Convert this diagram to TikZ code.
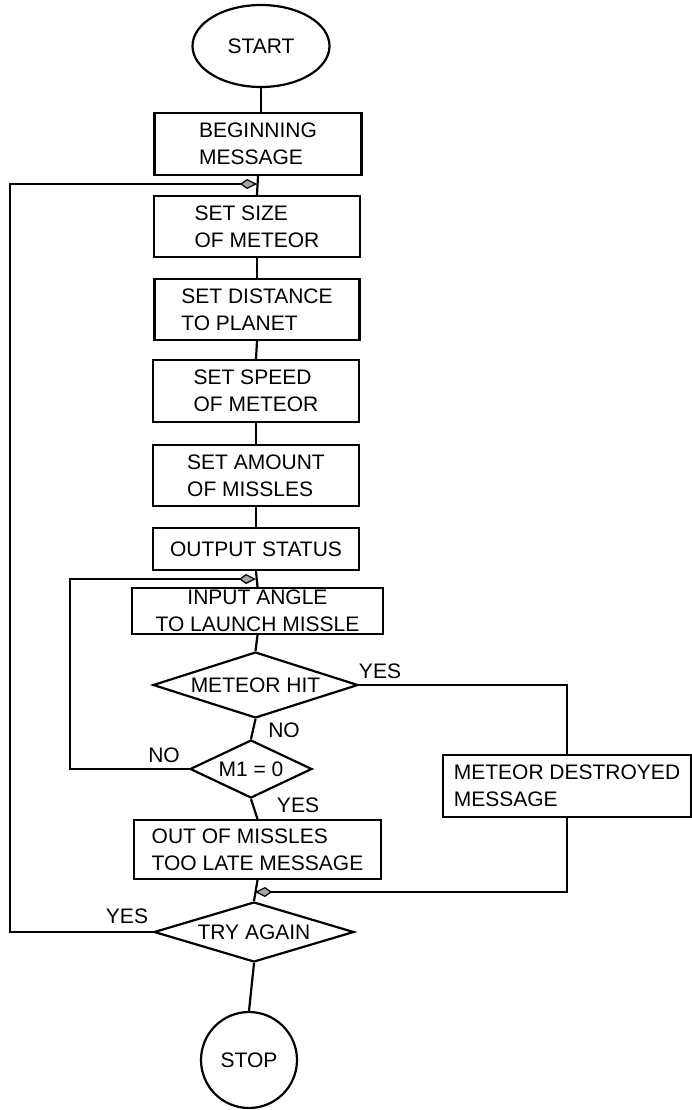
\documentclass[tikz,border=0pt]{standalone}
\usepackage{fontspec}
\setmainfont{Liberation Sans}
\usetikzlibrary{shapes.geometric,arrows.meta}
\newcommand\dfont{\fontsize{21}{27}\selectfont}
\begin{document}
\begin{tikzpicture}[x=1pt,y=-1pt,line width=2.2pt,
  box/.style={draw,rectangle,inner sep=0pt,align=left,font=\dfont},
  dec/.style={draw,diamond,inner sep=0pt,font=\dfont},
  term/.style={draw,inner sep=0pt,font=\dfont},
  lab/.style={font=\dfont,inner sep=0pt},
  tip/.style={-{Kite[length=17pt,width=10pt,inset=7pt,fill=gray!70,line width=1.2pt]}}]
\useasboundingbox (0,0) rectangle (692,1110);
\node[term,ellipse,minimum width=137pt,minimum height=82pt] (start) at (261,46) {START};
\node[box,minimum width=207pt,minimum height=62pt] (begin) at (258,144) {BEGINNING\\MESSAGE};
\node[box,minimum width=206pt,minimum height=61pt] (size) at (257,226.5) {SET SIZE\\OF METEOR};
\node[box,minimum width=205pt,minimum height=61pt] (dist) at (257,309.5) {SET DISTANCE\\TO PLANET};
\node[box,minimum width=206pt,minimum height=62pt] (speed) at (256,391) {SET SPEED\\OF METEOR};
\node[box,minimum width=206pt,minimum height=61pt] (amount) at (256,475.5) {SET AMOUNT\\OF MISSLES};
\node[box,minimum width=206pt,minimum height=42pt] (output) at (256,549) {OUTPUT STATUS};
\node[box,align=center,minimum width=251pt,minimum height=46pt] (input) at (257.5,611) {INPUT ANGLE\\TO LAUNCH MISSLE};
\node[dec,shape aspect=3.1,minimum width=205pt,minimum height=66pt] (hit) at (255.5,685) {METEOR HIT};
\node[dec,shape aspect=2.1,minimum width=122pt,minimum height=58pt] (m1) at (251,769) {M1 = 0};
\node[box,minimum width=247pt,minimum height=59pt] (out) at (257.5,849.5) {OUT OF MISSLES\\TOO LATE MESSAGE};
\node[box,minimum width=248pt,minimum height=62pt] (destroyed) at (567,786) {METEOR DESTROYED\\MESSAGE};
\node[dec,shape aspect=3.3,minimum width=200pt,minimum height=60pt] (try) at (254,932) {TRY AGAIN};
\node[term,circle,minimum size=96pt] (stop) at (249,1060) {STOP};

\coordinate (j1) at (257,184);
\coordinate (j2) at (256,579);
\coordinate (j3) at (255,892);
\coordinate (l1) at (10,0);
\coordinate (l2) at (70,0);

\draw (start.south) -- (start.south |- begin.north);
\draw (begin.south) -- (size.north);
\draw (size.south) -- (dist.north);
\draw (dist.south) -- (speed.north);
\draw (speed.south) -- (amount.north);
\draw (amount.south) -- (output.north);
\draw (output.south) -- (input.north);
\draw (input.south) -- (hit.north);
\draw (hit.south) -- (m1.north);
\draw (m1.south) -- (out.north);
\draw (out.south) -- (try.north);
\draw (try.south) -- (stop.north);
\draw (hit.east) -| (destroyed.north);
\draw[tip] (destroyed.south) |- (j3);
\draw[tip] (m1.west) -| (l2 |- j2) -- (j2);
\draw[tip] (try.west) -| (l1 |- j1) -- (j1);

\node[lab] (y1) at (380,671) {YES};
\node[lab] (n1) at (284,730) {NO};
\node[lab] (n2) at (164,755) {NO};
\node[lab] (y2) at (298,805) {YES};
\node[lab] (y3) at (127,916) {YES};
\end{tikzpicture}
\end{document}
